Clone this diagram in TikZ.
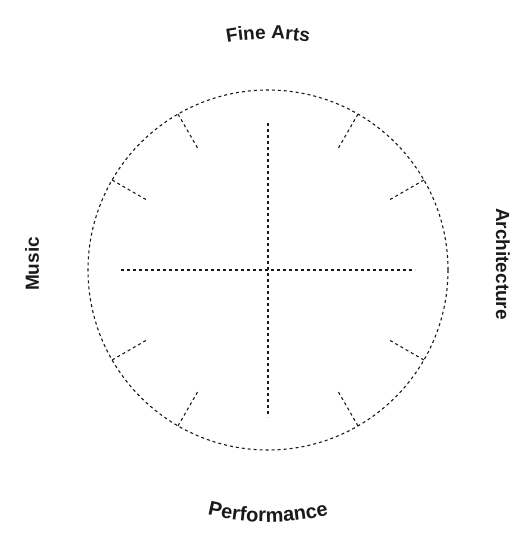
\documentclass[tikz,border=0pt]{standalone}
\usepackage{fontspec}
\setsansfont{Liberation Sans}
\usetikzlibrary{decorations.text}
\definecolor{Ink}{HTML}{1A1A1A}

\begin{document}
\begin{tikzpicture}[x=1pt,y=1pt,
  guide/.style={Ink,dashed,line width=1.1pt},
  lbl/.style={font=\sffamily\bfseries\fontsize{19}{22}\selectfont,text=Ink}]
\useasboundingbox (-268,-270) rectangle (257,270);
\coordinate (c) at (0,0);
\draw[guide] (c) circle[radius=180];
\coordinate (n) at (0,147); \coordinate (s) at (0,-147);
\coordinate (w) at (-147,0); \coordinate (e) at (147,0);
\draw[guide] (n) -- (s);
\draw[guide] (w) -- (e);
\foreach \a in {30,60,120,150,210,240,300,330} {\draw[guide] (\a:180) -- (\a:140);}
% curved labels
\path[decorate,decoration={text along path,text align=center,text color=Ink,
  text={|\sffamily\bfseries\fontsize{19}{22}\selectfont|Fine Arts}}]
  (160:231) arc[start angle=160,end angle=20,radius=231];
\path[decorate,decoration={text along path,text align=center,text color=Ink,
  text={|\sffamily\bfseries\fontsize{20}{22}\selectfont|Performance}}]
  (200:252) arc[start angle=200,end angle=340,radius=252];
\node[lbl,rotate=90] (music) at (-236,6) {Music};
\node[lbl,rotate=-90] (arch) at (235,6) {Architecture};
\end{tikzpicture}
\end{document}
